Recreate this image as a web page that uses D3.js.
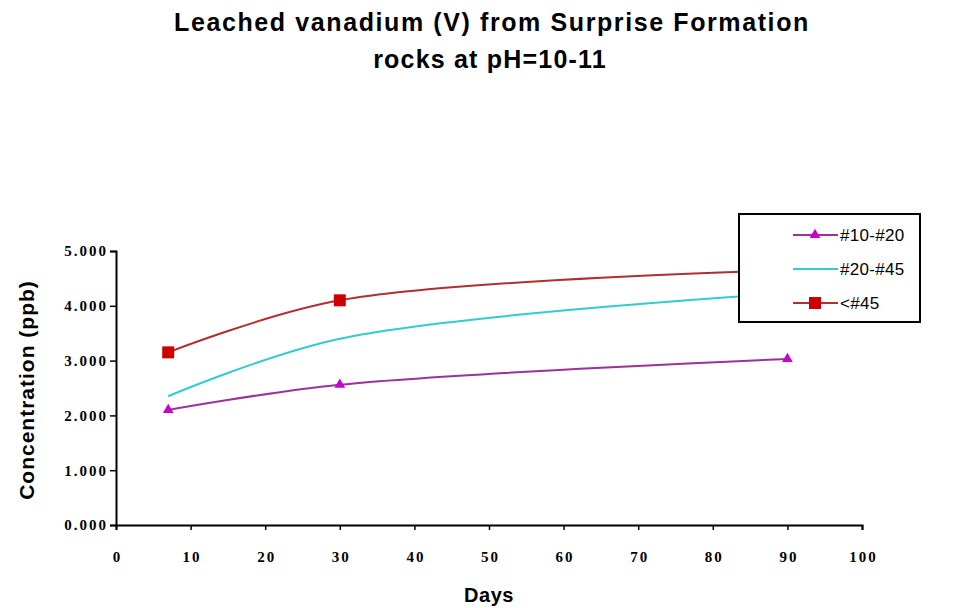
<!DOCTYPE html>
<html><head><meta charset="utf-8">
<script src="https://cdn.jsdelivr.net/npm/d3@7"></script>
<style>body{margin:0;background:#fff}</style>
</head><body>
<script>
const days = [7, 30, 90];
const seriesNames = ["#10-#20", "#20-#45", "<#45"];
const s1020 = [2100, 2560, 3030];
const s2045 = [2350, 3400, 4230];
const s45 = [3150, 4100, 4650];
const xTicks = [0,10,20,30,40,50,60,70,80,90,100];
const yTicks = [0,1000,2000,3000,4000,5000];

const W = 955, H = 608;
const svg = d3.select("body").append("svg").attr("width", W).attr("height", H);
const x = d3.scaleLinear().domain([0,100]).range([116, 862]);
const y = d3.scaleLinear().domain([0,5000]).range([525, 251]);

const sans = "Liberation Sans, Arial, sans-serif";
svg.append("text").attr("x", 492).attr("y", 31).attr("text-anchor","middle")
  .attr("font-family",sans).attr("font-weight","bold").attr("font-size",25).attr("letter-spacing",1.6)
  .text("Leached vanadium (V) from Surprise Formation");
svg.append("text").attr("x", 490).attr("y", 68).attr("text-anchor","middle")
  .attr("font-family",sans).attr("font-weight","bold").attr("font-size",25).attr("letter-spacing",1.2)
  .text("rocks at pH=10-11");

const yAxis = svg.append("g").attr("transform","translate(116,0)")
  .call(d3.axisLeft(y).tickValues(yTicks).tickSize(6).tickFormat(d => d3.format(".3f")(d/1000)));
const xAxis = svg.append("g").attr("transform","translate(0,525)")
  .call(d3.axisBottom(x).tickValues(xTicks).tickSize(5).tickFormat(d3.format("d")));
[yAxis, xAxis].forEach(g => {
  g.select(".domain").attr("stroke","#000").attr("stroke-width",2);
  g.selectAll(".tick line").attr("stroke","#000").attr("stroke-width",1.5);
  g.selectAll("text").attr("font-family","Liberation Serif, Times New Roman, serif").attr("font-weight","bold").attr("font-size",15).attr("letter-spacing",2).attr("fill","#000");
});
yAxis.selectAll("text").attr("x",-8);
xAxis.selectAll("text").attr("y",37).attr("dy",0).attr("dx",1);

svg.append("text").attr("x", 489).attr("y", 602).attr("text-anchor","middle")
  .attr("font-family",sans).attr("font-weight","bold").attr("font-size",20).attr("letter-spacing",0.5).text("Days");
svg.append("text").attr("transform","translate(34,390) rotate(-90)").attr("text-anchor","middle")
  .attr("font-family",sans).attr("font-weight","bold").attr("font-size",21).attr("letter-spacing",1).text("Concentration (ppb)");

const line = d3.line().x(d => x(d[0])).y(d => y(d[1])).curve(d3.curveCatmullRom.alpha(0.5));
const series = [
  {name: seriesNames[0], vals: s1020, line: "#993399", marker: "#CC00CC", shape: "tri"},
  {name: seriesNames[1], vals: s2045, line: "#33CCCC", marker: "#33CCCC", shape: "none"},
  {name: seriesNames[2], vals: s45, line: "#B03030", marker: "#CC0000", shape: "sq"}
];
function drawMarker(g, shape, cx, cy, color) {
  if (shape === "tri") g.append("path").attr("d", d3.symbol(d3.symbolTriangle, 50)()).attr("transform",`translate(${cx},${cy})`).attr("fill",color);
  else if (shape === "sq") g.append("rect").attr("x",cx-6).attr("y",cy-6).attr("width",12).attr("height",12).attr("fill",color);
}
series.forEach(s => {
  const pts = days.map((d,i) => [d, s.vals[i]]);
  svg.append("path").attr("d", line(pts)).attr("fill","none").attr("stroke", s.line).attr("stroke-width",2);
  const g = svg.append("g");
  pts.forEach(p => drawMarker(g, s.shape, x(p[0]), y(p[1]), s.marker));
});

// legend
const lg = svg.append("g");
lg.append("rect").attr("x",739).attr("y",214).attr("width",181).attr("height",108).attr("fill","#fff").attr("stroke","#000").attr("stroke-width",2);
series.forEach((s,i) => {
  const cy = 235 + i*34;
  lg.append("line").attr("x1",793).attr("x2",838).attr("y1",cy).attr("y2",cy).attr("stroke",s.line).attr("stroke-width",2);
  drawMarker(lg, s.shape, 815, cy, s.marker);
  lg.append("text").attr("x",840).attr("y",cy+6).attr("font-family",sans).attr("font-size",17).attr("letter-spacing",0.3).text(s.name);
});
</script>
</body></html>
